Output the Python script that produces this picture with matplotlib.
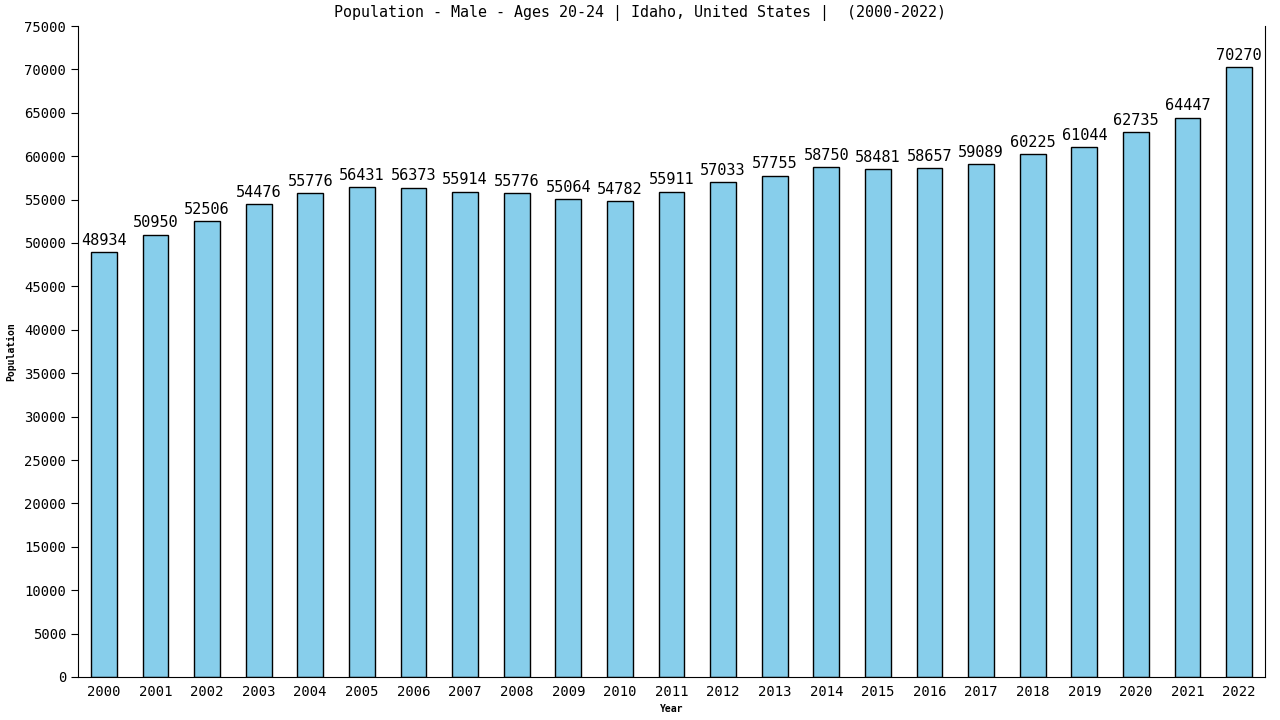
import matplotlib
matplotlib.use("Agg")
import matplotlib.pyplot as plt

years = [str(y) for y in range(2000, 2023)]
population = [48934, 50950, 52506, 54476, 55776, 56431, 56373, 55914, 55776, 55064,
              54782, 55911, 57033, 57755, 58750, 58481, 58657, 59089, 60225, 61044,
              62735, 64447, 70270]
yticks = list(range(0, 75001, 5000))

plt.rcParams['font.family'] = ['DejaVu Sans Mono']

fig = plt.figure(figsize=(12.8, 7.2), dpi=100)
ax = fig.add_axes((78 / 1280, 43 / 720, 1187 / 1280, 651 / 720))

x = list(range(len(years)))
ax.bar(x, population, width=0.5, color='#87ceeb', edgecolor='black', linewidth=1)
for xi, v in zip(x, population):
    ax.text(xi, v + 500, str(v), ha='center', va='bottom', fontsize=11)

ax.set_xlim(-0.5, 22.5)
ax.set_ylim(0, 75000)
ax.set_xticks(x)
ax.set_xticklabels(years, fontsize=10)
ax.set_yticks(yticks)
ax.set_yticklabels([str(t) for t in yticks], fontsize=10)
ax.tick_params(axis='x', length=0, pad=6)
ax.tick_params(axis='y', length=5, direction='out')
ax.spines['top'].set_visible(False)

ax.set_xlabel('Year', fontsize=7, fontweight='bold', labelpad=3)
ax.set_ylabel('Population', fontsize=7, fontweight='bold', labelpad=6)
fig.text(0.5, 1 - 13 / 720,
         'Population - Male - Ages 20-24 | Idaho, United States |  (2000-2022)',
         ha='center', va='center', fontsize=10.8)

fig.savefig('out.png', dpi=100)
